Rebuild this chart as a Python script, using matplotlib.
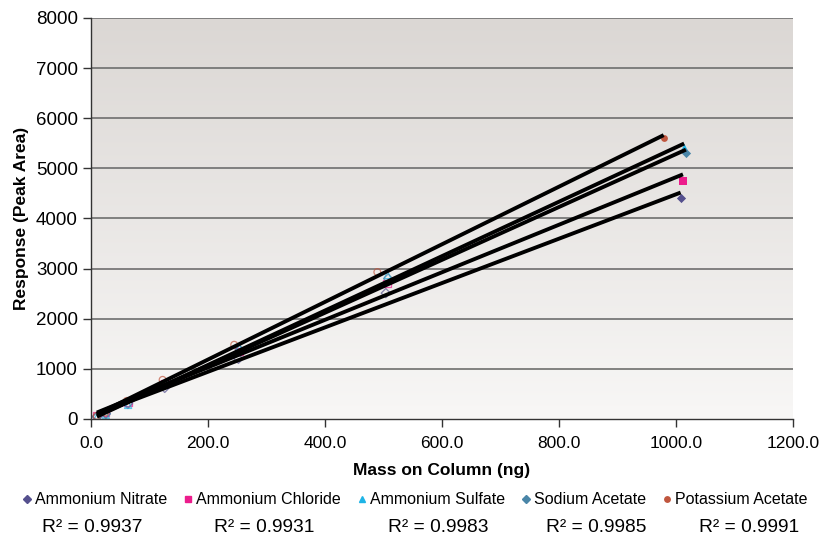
import matplotlib
matplotlib.use("Agg")
import matplotlib.pyplot as plt
import numpy as np
from matplotlib.lines import Line2D

plt.rcParams["font.family"] = ["Liberation Sans", "DejaVu Sans"]

series_names = ["Ammonium Nitrate", "Ammonium Chloride", "Ammonium Sulfate",
                "Sodium Acetate", "Potassium Acetate"]
r2_labels = ["0.9937", "0.9931", "0.9983", "0.9985", "0.9991"]

nitrate_x = [10.1, 25.2, 63.0, 126.0, 252.0, 504.0, 1008.0]
nitrate_y = [50, 110, 300, 620, 1200, 2510, 4400]
chloride_x = [10.1, 25.3, 63.2, 126.5, 253.0, 506.0, 1012.0]
chloride_y = [60, 130, 330, 700, 1350, 2710, 4750]
sulfate_x = [10.1, 25.4, 63.4, 126.8, 253.5, 507.0, 1014.0]
sulfate_y = [30, 80, 280, 700, 1420, 2870, 5420]
sodium_x = [10.2, 25.4, 63.5, 127.0, 254.0, 508.0, 1017.0]
sodium_y = [40, 100, 320, 690, 1380, 2800, 5310]
potassium_x = [9.8, 24.5, 61.2, 122.4, 244.8, 489.5, 979.0]
potassium_y = [60, 130, 360, 780, 1480, 2930, 5610]

xs = [nitrate_x, chloride_x, sulfate_x, sodium_x, potassium_x]
ys = [nitrate_y, chloride_y, sulfate_y, sodium_y, potassium_y]

markers = ["D", "s", "^", "D", "o"]
msizes = [22, 26, 26, 22, 24]
colors = ["#55508e", "#ec1c8c", "#1eb4e6", "#4a86a8", "#c0563e"]

fig = plt.figure(figsize=(8.2, 5.42), dpi=100)
ax = fig.add_axes([0.111, 0.227, 0.856, 0.740])

# gradient background of the plot area
grad = np.linspace(0, 1, 256).reshape(-1, 1)
ax.imshow(grad, cmap=matplotlib.colors.LinearSegmentedColormap.from_list(
    "bg", ["#f8f7f6", "#dbd7d4"]), origin="lower", aspect="auto",
    extent=[0, 1200, 0, 8000], zorder=0)

for v in range(1000, 8001, 1000):
    ax.axhline(v, color="#6e6e6e", lw=1.2, zorder=1)

for x, y, m, s, c in zip(xs, ys, markers, msizes, colors):
    x = np.asarray(x)
    y = np.asarray(y)
    last = x == x.max()
    ax.scatter(x[~last], y[~last], marker=m, s=s, facecolors="none",
               edgecolors=c, linewidths=0.9, alpha=0.7, zorder=2)
    ax.scatter(x[last], y[last], marker=m, s=s, color=c, linewidths=0, zorder=2)
    k, b = np.polyfit(x, y, 1)
    xl = np.array([x.min(), x.max()])
    ax.plot(xl, k * xl + b, color="black", lw=2.8, zorder=3,
            solid_capstyle="butt")

ax.set_xlim(0, 1200)
ax.set_ylim(0, 8000)
ax.set_xticks(np.arange(0, 1201, 200))
ax.set_xticklabels([f"{v:.1f}" for v in np.arange(0, 1201, 200)])
ax.set_yticks(np.arange(0, 8001, 1000))
ax.tick_params(axis="both", direction="out", length=6, width=1, color="#333333",
               labelsize=13.5)
ax.tick_params(axis="x", pad=6, labelsize=12.5)
for sp in ["top", "right"]:
    ax.spines[sp].set_visible(False)
for sp in ["left", "bottom"]:
    ax.spines[sp].set_color("#333333")
    ax.spines[sp].set_linewidth(1)

ax.set_xlabel("Mass on Column (ng)", fontsize=12.5, fontweight="bold", labelpad=9)
ax.set_ylabel("Response (Peak Area)", fontsize=12.5, fontweight="bold", labelpad=5)

handles = [Line2D([], [], marker=m, ls="none", color=c, markersize=np.sqrt(s) * 0.8)
           for m, s, c in zip(markers, msizes, colors)]
fig.legend(handles, series_names, loc="center", ncol=5,
           bbox_to_anchor=(0.505, 0.078), frameon=False, fontsize=11.5,
           handletextpad=0.1, columnspacing=0.9, handlelength=0.8)

r2_x = [0.113, 0.322, 0.535, 0.727, 0.914]
for xp, lab in zip(r2_x, r2_labels):
    fig.text(xp, 0.027, f"R² = {lab}", fontsize=13.8, ha="center", va="center")

fig.savefig("out.png", dpi=100)
